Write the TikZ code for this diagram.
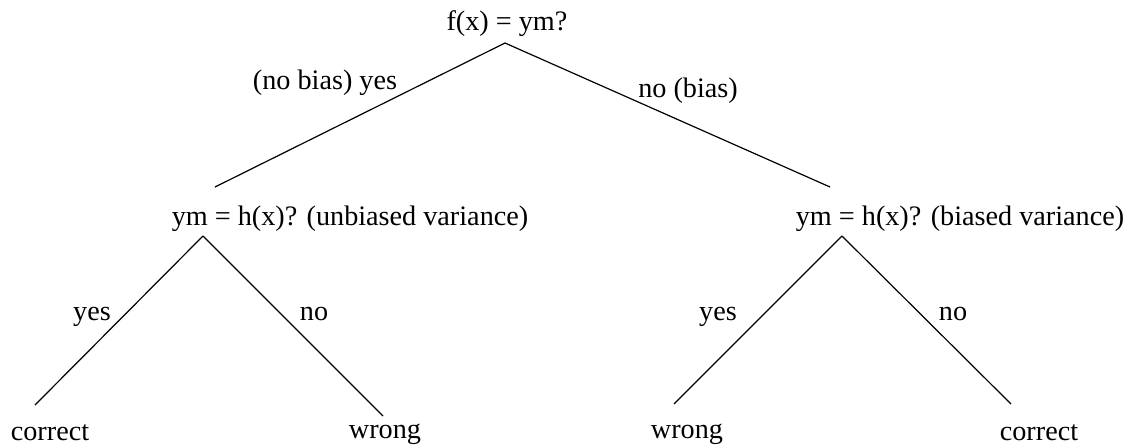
\documentclass[tikz,border=0pt]{standalone}
\usepackage{fontspec}
\setmainfont{Liberation Serif}
\usetikzlibrary{positioning}

\begin{document}
\begin{tikzpicture}[
    x=0.5pt, y=-0.5pt,
    txt/.style={inner sep=0pt, anchor=base, font=\fontsize{14.1}{16}\selectfont},
    branch/.style={line width=0.6pt}
]
\useasboundingbox (0,0) rectangle (1130,445);

\node[txt] (root) at (507,30) {f(x) = ym?};
\node[txt] (unb) at (350,225) {ym = h(x)? (unbiased variance)};
\node[txt] (bia) at (960,225) {ym = h(x)? (biased variance)};
\node[txt] (unbyes) at (50,440) {correct};
\node[txt] (unbno) at (385,438) {wrong};
\node[txt] (biayes) at (687,438) {wrong};
\node[txt] (biano) at (1039,440) {correct};

\coordinate (rootfork) at (505,43);
\coordinate (unbfork) at (203,236);
\coordinate (biafork) at (842,236);
\coordinate (unbtop) at (215,187);
\coordinate (biatop) at (830,187);
\coordinate (t1) at (35,405);
\coordinate (t2) at (383,416);
\coordinate (t3) at (674,404);
\coordinate (t4) at (1011,404);

\draw[branch] (rootfork) -- (unbtop);
\draw[branch] (rootfork) -- (biatop);
\draw[branch] (unbfork) -- (t1);
\draw[branch] (unbfork) -- (t2);
\draw[branch] (biafork) -- (t3);
\draw[branch] (biafork) -- (t4);

\node[txt] (nobias) at (325,89) {(no bias) yes};
\node[txt] (bias) at (688,97) {no (bias)};
\node[txt] (y1) at (92,320) {yes};
\node[txt] (n1) at (314,320) {no};
\node[txt] (y2) at (718,320) {yes};
\node[txt] (n2) at (953,320) {no};
\end{tikzpicture}
\end{document}
